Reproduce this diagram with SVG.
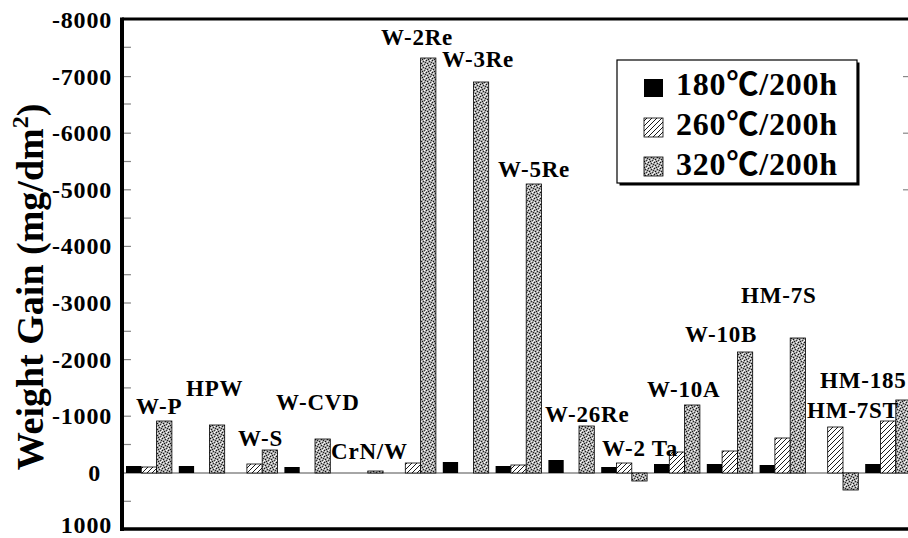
<svg xmlns="http://www.w3.org/2000/svg" width="908" height="538" viewBox="0 0 908 538">
<defs>
<pattern id="hatch" patternUnits="userSpaceOnUse" width="5" height="5">
<rect width="5" height="5" fill="#fff"/>
<path d="M0,5 L5,0 M-1,1 L1,-1 M4,6 L6,4" stroke="#000" stroke-width="0.9"/>
</pattern>
<pattern id="dots" patternUnits="userSpaceOnUse" width="6" height="6">
<rect width="6" height="6" fill="#a8a8a8"/>
<rect x="0" y="0" width="1" height="1" fill="#111"/>
<rect x="3" y="1" width="1" height="1" fill="#222"/>
<rect x="1" y="3" width="1" height="1" fill="#111"/>
<rect x="4" y="4" width="1" height="1" fill="#333"/>
<rect x="5" y="2" width="1" height="1" fill="#222"/>
<rect x="2" y="5" width="1" height="1" fill="#111"/>
<rect x="1" y="1" width="1" height="1" fill="#eee"/>
<rect x="4" y="0" width="1" height="1" fill="#fff"/>
<rect x="3" y="3" width="1" height="1" fill="#eee"/>
<rect x="0" y="4" width="1" height="1" fill="#fff"/>
<rect x="5" y="5" width="1" height="1" fill="#eee"/>
</pattern>
<style>
.lbl{font-family:"Liberation Serif","Times New Roman",serif;font-weight:bold;font-size:23px;letter-spacing:0.8px;fill:#000}
.tick{font-family:"Liberation Serif","Times New Roman",serif;font-weight:bold;font-size:24px;letter-spacing:0.8px;fill:#000;text-anchor:end}
.leg{font-family:"Liberation Serif","Noto Sans CJK JP",serif;font-weight:bold;font-size:32px;letter-spacing:0.8px;fill:#000}
.b1{fill:#000}
.b2{fill:url(#hatch);stroke:#000;stroke-width:0.8}
.b3{fill:url(#dots);stroke:#000;stroke-width:0.8}
.tk{stroke:#888;stroke-width:1.2}
</style>
</defs>
<rect width="908" height="538" fill="#fff"/>

<g id="axes">
<line x1="122" y1="19" x2="908" y2="19" stroke="#000" stroke-width="3"/>
<line x1="122" y1="17.5" x2="122" y2="531" stroke="#000" stroke-width="4"/>
<line x1="120" y1="529" x2="908" y2="529" stroke="#000" stroke-width="3.5"/>
<line x1="124" y1="473" x2="908" y2="473" stroke="#888" stroke-width="1.6"/>
<g class="tk">
<line x1="124" y1="47.3" x2="131" y2="47.3"/>
<line x1="124" y1="76.6" x2="131" y2="76.6"/>
<line x1="124" y1="104" x2="131" y2="104"/>
<line x1="124" y1="133.2" x2="131" y2="133.2"/>
<line x1="124" y1="161.5" x2="131" y2="161.5"/>
<line x1="124" y1="189.8" x2="131" y2="189.8"/>
<line x1="124" y1="218.1" x2="131" y2="218.1"/>
<line x1="124" y1="246.4" x2="131" y2="246.4"/>
<line x1="124" y1="274.7" x2="131" y2="274.7"/>
<line x1="124" y1="303" x2="131" y2="303"/>
<line x1="124" y1="331.3" x2="131" y2="331.3"/>
<line x1="124" y1="359.6" x2="131" y2="359.6"/>
<line x1="124" y1="387.9" x2="131" y2="387.9"/>
<line x1="124" y1="416.2" x2="131" y2="416.2"/>
<line x1="124" y1="444.5" x2="131" y2="444.5"/>
<line x1="124" y1="501.3" x2="131" y2="501.3"/>
<line x1="903" y1="76.6" x2="908" y2="76.6"/>
<line x1="903" y1="133.2" x2="908" y2="133.2"/>
<line x1="903" y1="189.8" x2="908" y2="189.8"/>
</g>
<text class="tick" x="112" y="28">-8000</text>
<text class="tick" x="112" y="84.6">-7000</text>
<text class="tick" x="112" y="141.2">-6000</text>
<text class="tick" x="112" y="197.8">-5000</text>
<text class="tick" x="112" y="254.4">-4000</text>
<text class="tick" x="112" y="311">-3000</text>
<text class="tick" x="112" y="367.6">-2000</text>
<text class="tick" x="112" y="424.2">-1000</text>
<text class="tick" x="101" y="481">0</text>
<text class="tick" x="112" y="533">1000</text>
<text font-family="Liberation Serif, Times New Roman, serif" font-weight="bold" font-size="38" text-anchor="middle" transform="translate(43,287) rotate(-90)">Weight Gain (mg/dm<tspan font-size="24" dy="-15">2</tspan><tspan dy="15">)</tspan></text>
</g>

<g id="bars">
<rect class="b1" x="126" y="466" width="15.3" height="7"/>
<rect class="b2" x="141.3" y="467" width="15.3" height="6"/>
<rect class="b3" x="156.6" y="421" width="15.3" height="52"/>
<rect class="b1" x="178.8" y="466" width="15.3" height="7"/>
<rect class="b3" x="209.4" y="425" width="15.3" height="48"/>
<rect class="b2" x="246.9" y="464" width="15.3" height="9"/>
<rect class="b3" x="262.2" y="450" width="15.3" height="23"/>
<rect class="b1" x="284.4" y="467" width="15.3" height="6"/>
<rect class="b3" x="315" y="439" width="15.3" height="34"/>
<rect class="b3" x="367.8" y="471" width="15.3" height="2"/>
<rect class="b2" x="405.3" y="463" width="15.3" height="10"/>
<rect class="b3" x="420.6" y="58" width="15.3" height="415"/>
<rect class="b1" x="442.8" y="462" width="15.3" height="11"/>
<rect class="b3" x="473.4" y="82" width="15.3" height="391"/>
<rect class="b1" x="495.6" y="466" width="15.3" height="7"/>
<rect class="b2" x="510.9" y="465" width="15.3" height="8"/>
<rect class="b3" x="526.2" y="184" width="15.3" height="289"/>
<rect class="b1" x="548.4" y="460" width="15.3" height="13"/>
<rect class="b3" x="579" y="426" width="15.3" height="47"/>
<rect class="b1" x="601.2" y="467" width="15.3" height="6"/>
<rect class="b2" x="616.5" y="463" width="15.3" height="10"/>
<rect class="b3" x="631.8" y="473" width="15.3" height="8"/>
<rect class="b1" x="654" y="464" width="15.3" height="9"/>
<rect class="b2" x="669.3" y="452" width="15.3" height="21"/>
<rect class="b3" x="684.6" y="405" width="15.3" height="68"/>
<rect class="b1" x="706.8" y="464" width="15.3" height="9"/>
<rect class="b2" x="722.1" y="451" width="15.3" height="22"/>
<rect class="b3" x="737.4" y="352" width="15.3" height="121"/>
<rect class="b1" x="759.6" y="465" width="15.3" height="8"/>
<rect class="b2" x="774.9" y="438" width="15.3" height="35"/>
<rect class="b3" x="790.2" y="338" width="15.3" height="135"/>
<rect class="b2" x="827.7" y="427" width="15.3" height="46"/>
<rect class="b3" x="843" y="473" width="15.3" height="17"/>
<rect class="b1" x="865.2" y="464" width="15.3" height="9"/>
<rect class="b2" x="880.5" y="421" width="15.3" height="52"/>
<rect class="b3" x="895.8" y="400" width="15.3" height="73"/>
</g>

<g id="labels">
<text class="lbl" x="136" y="414">W-P</text>
<text class="lbl" x="186" y="396">HPW</text>
<text class="lbl" x="238" y="446">W-S</text>
<text class="lbl" x="276" y="410">W-CVD</text>
<text class="lbl" x="331" y="459">CrN/W</text>
<text class="lbl" x="381" y="45">W-2Re</text>
<text class="lbl" x="442" y="67">W-3Re</text>
<text class="lbl" x="498" y="177">W-5Re</text>
<text class="lbl" x="545" y="422">W-26Re</text>
<text class="lbl" x="602" y="456">W-2 Ta</text>
<text class="lbl" x="647" y="397">W-10A</text>
<text class="lbl" x="685" y="342">W-10B</text>
<text class="lbl" x="741" y="303">HM-7S</text>
<text class="lbl" x="807" y="418">HM-7ST</text>
<text class="lbl" x="820" y="388">HM-185</text>
</g>

<g id="legend">
<rect x="619.5" y="62.5" width="240" height="123" fill="#000"/>
<rect x="617" y="60" width="240" height="123" fill="#fff" stroke="#000" stroke-width="1.2"/>
<rect class="b1" x="644" y="79" width="19" height="18"/>
<text class="leg" x="676" y="95">180℃/200h</text>
<rect class="b2" x="644" y="118" width="19" height="19"/>
<text class="leg" x="676" y="135">260℃/200h</text>
<rect class="b3" x="644" y="157" width="19" height="19"/>
<text class="leg" x="676" y="175">320℃/200h</text>
</g>
</svg>
